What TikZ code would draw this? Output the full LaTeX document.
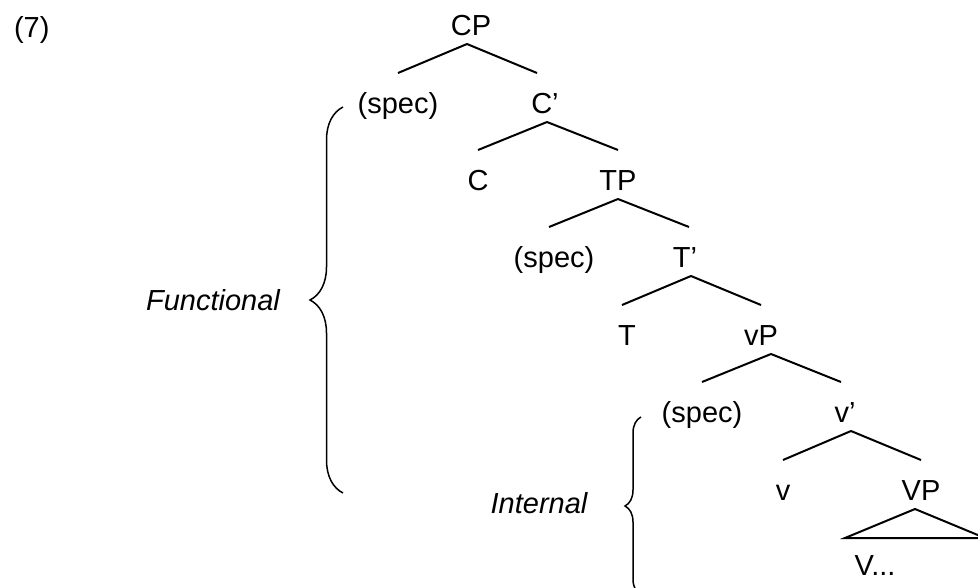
\documentclass[tikz,border=0pt]{standalone}
\usepackage{fontspec}
\setmainfont{Liberation Sans}
\usetikzlibrary{decorations.pathreplacing}

\begin{document}
\begin{tikzpicture}[x=1pt, y=-1pt, line width=2pt]
	\tikzstyle{cat}=[inner sep=0pt, anchor=base, text height=39pt, text depth=8pt, font=\fontsize{29}{34}\selectfont]
	\tikzstyle{annot}=[inner sep=0pt, anchor=base, font=\fontsize{29}{34}\selectfont\itshape]
	\tikzstyle{bigbrace}=[decorate, decoration={brace, amplitude=33pt}, line width=1.5pt]
	\tikzstyle{smallbrace}=[decorate, decoration={brace, amplitude=16pt}, line width=1.5pt]
	\clip (0,0) rectangle (978,587);

	% Draw labels
	\node[annot, font=\fontsize{29}{34}\selectfont, anchor=base west] (num) at (13,37) {(7)};
	\node[annot] (functional) at (213,310) {Functional};
	\node[annot] (internal) at (539,513) {Internal};

	% Draw categories
	\node[cat] (CP) at (471,35) {CP};
	\node[cat] (specC) at (398,113) {(spec)};
	\node[cat] (Cbar) at (545,113) {C’};
	\node[cat] (C) at (478,190) {C};
	\node[cat] (TP) at (618,190) {TP};
	\node[cat] (specT) at (554,267) {(spec)};
	\node[cat] (Tbar) at (685,267) {T’};
	\node[cat] (T) at (627,345) {T};
	\node[cat] (vP) at (761,345) {vP};
	\node[cat] (specv) at (702,422) {(spec)};
	\node[cat] (vbar) at (845,422) {v’};
	\node[cat] (v) at (783,500) {v};
	\node[cat] (VP) at (921,500) {VP};
	\node[cat] (Vdots) at (875,575) {V...};

	% Draw branches
	\draw ([xshift=-4pt]CP.south) -- (specC.north);
	\draw ([xshift=-4pt]CP.south) -- ([xshift=-8pt]Cbar.north);
	\draw ([xshift=2pt]Cbar.south) -- (C.north);
	\draw ([xshift=2pt]Cbar.south) -- (TP.north);
	\draw (TP.south) -- ([xshift=-5pt]specT.north);
	\draw (TP.south) -- ([xshift=4pt]Tbar.north);
	\draw ([xshift=6pt]Tbar.south) -- ([xshift=-5pt]T.north);
	\draw ([xshift=6pt]Tbar.south) -- (vP.north);
	\draw ([xshift=10pt]vP.south) -- (specv.north);
	\draw ([xshift=10pt]vP.south) -- ([xshift=-4pt]vbar.north);
	\draw ([xshift=6pt]vbar.south) -- (v.north);
	\draw ([xshift=6pt]vbar.south) -- (VP.north);
	\draw ([xshift=-6pt]VP.south) -- ++(-70,29) -- ++(140,0) -- cycle;

	% Draw braces
	\draw[bigbrace] (343,493) -- (343,107);
	\draw[smallbrace] (641,595) -- (641,417);

\end{tikzpicture}
\end{document}
